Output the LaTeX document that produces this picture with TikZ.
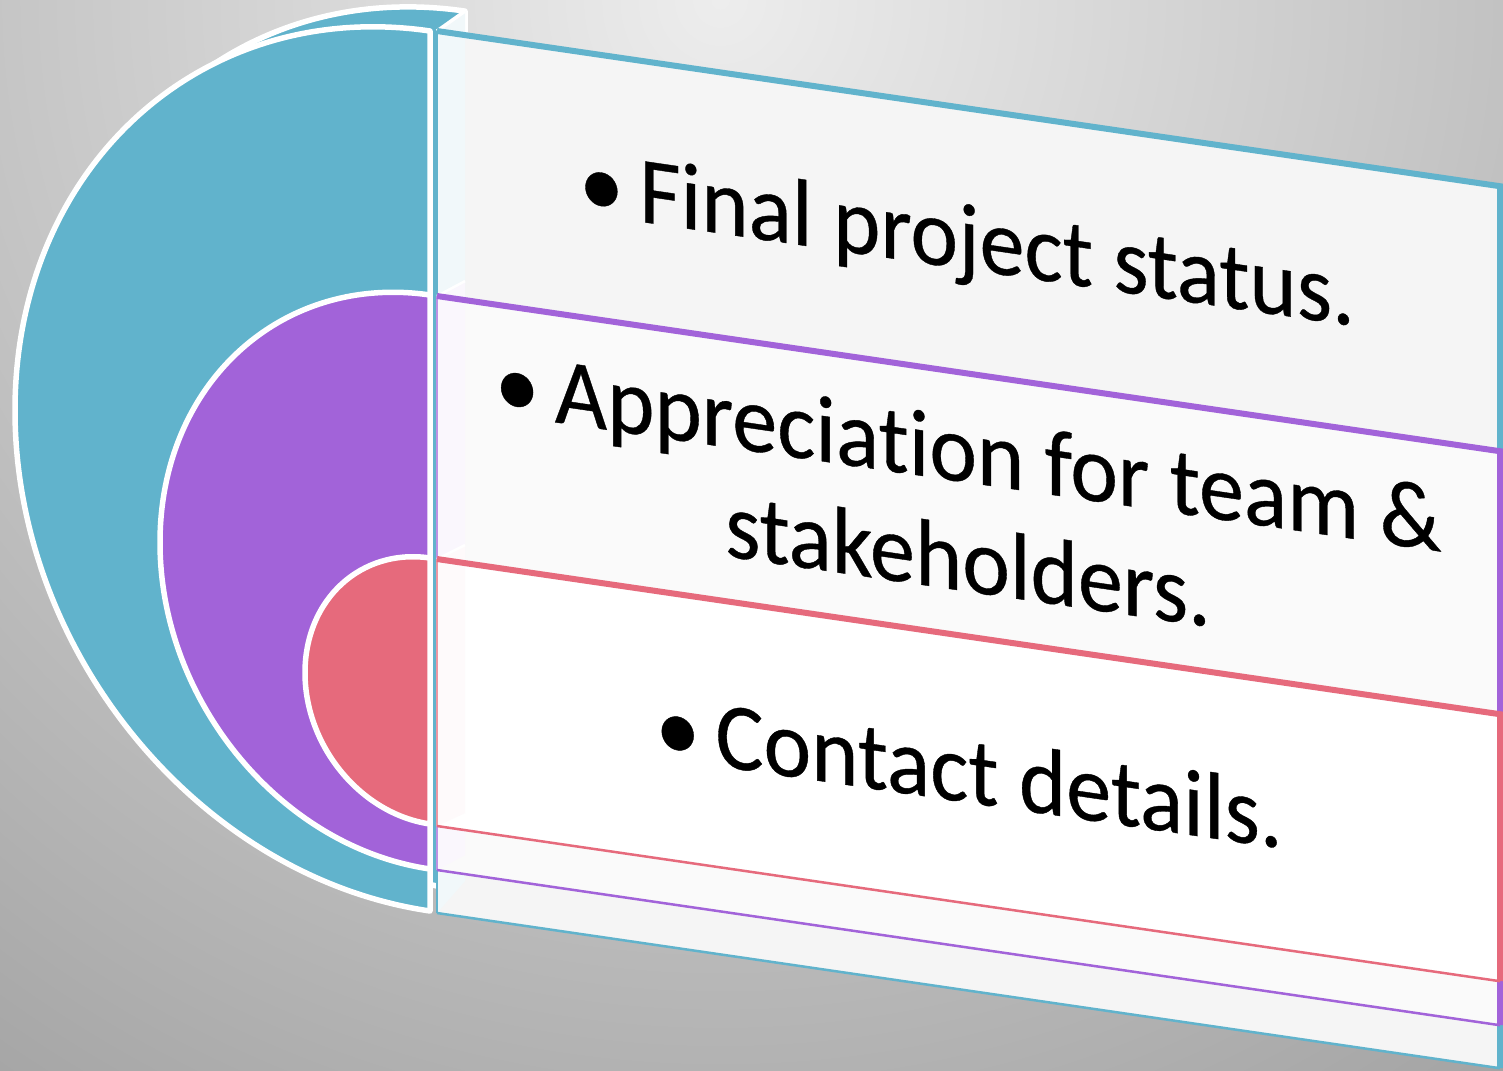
\documentclass[tikz,border=0pt]{standalone}
\usepackage{fontspec}
\setmainfont{Carlito}[RawFeature={-liga;-clig}, FakeBold=0.4]
\definecolor{cblue}{HTML}{61B3CC}
\definecolor{cpurp}{HTML}{A263D9}
\definecolor{cred}{HTML}{E66A7C}
\definecolor{bgin}{HTML}{EDEDED}
\definecolor{bgout}{HTML}{A0A0A0}
\definecolor{fillA}{HTML}{F5F5F5}
\definecolor{fillB}{HTML}{FAFAFA}
\newcommand{\bul}{\textbullet\hspace{0.17em}}
\tikzset{
  disc/.style={draw=white, line width=5.5pt, line join=round},
  topedge/.style={line width=6pt},
  botedge/.style={line width=2.5pt},
  sideedge/.style={line width=1.2pt},
  itemtext/.style={font=\fontsize{95}{109}\selectfont, inner sep=0pt, transform shape, text=black},
}
\begin{document}
\begin{tikzpicture}[x=1pt,y=-1pt]
\useasboundingbox (0,0) rectangle (1503,1070);
\begin{scope}
  \clip (0,0) rectangle (1503,1070);
  \shade[inner color=bgin, outer color=bgout] (720,0) circle (1400pt);
\end{scope}
\begin{scope}[cm={1,-0.146,0,1,(0pt,62.78pt)}]
  % blue item
  \path[disc, fill=cblue] (465,6) arc[start angle=90,end angle=270,x radius=415pt,y radius=440pt] -- cycle;
  \fill[fillA] (437,30) rectangle (1500,912);
  \fill[cblue!9] (437,30) -- (465,6) -- (465,876) -- (437,912) -- cycle;
  \draw[white, line width=3.5pt] (437,30) -- (465,6);
  \draw[cblue, sideedge] (437,30) -- (437,912);
  \draw[cblue, botedge] (437,912) -- (1500,912);
  \draw[cblue, topedge] (437,30) -- (1500,30) -- (1500,912);
  \path[disc, fill=cblue] (430,31) arc[start angle=90,end angle=270,x radius=415pt,y radius=440pt] -- cycle;
  % purple item
  \fill[fillB] (437,295) rectangle (1500,869);
  \fill[cpurp!5] (437,295) -- (465,276) -- (465,850) -- (437,869) -- cycle;
  \draw[white, line width=2.5pt] (437,295) -- (465,276);
  \draw[cpurp!70, sideedge] (437,295) -- (437,869);
  \draw[cpurp, botedge] (437,869) -- (1500,869);
  \draw[cpurp, topedge] (437,295) -- (1500,295) -- (1500,869);
  \path[disc, fill=cpurp] (430,295) arc[start angle=90,end angle=270,x radius=270pt,y radius=287pt] -- cycle;
  % red item
  \fill[white] (437,558) rectangle (1500,825);
  \fill[cred!3] (437,558) -- (465,540) -- (465,808) -- (437,825) -- cycle;
  \draw[white, line width=2.5pt] (437,558) -- (465,540);
  \draw[cred!70, sideedge] (437,558) -- (437,825);
  \draw[cred, botedge] (437,825) -- (1500,825);
  \draw[cred, topedge] (437,558) -- (1500,558) -- (1500,825);
  \path[disc, fill=cred] (430,558) arc[start angle=90,end angle=270,x radius=125pt,y radius=133pt] -- cycle;
  % texts
  \node[itemtext, anchor=base] (t1) at (967,191) {\scalebox{0.95}[1]{\bul Final project status.}};
  \node[itemtext, anchor=base] (t2) at (968,404) {\scalebox{0.95}[1]{\begin{tabular}[t]{@{}c@{}}\bul Appreciation for team \&\\ stakeholders.\end{tabular}}};
  \node[itemtext, anchor=base] (t3) at (969,724) {\scalebox{0.95}[1]{\bul Contact details.}};
\end{scope}
\end{tikzpicture}
\end{document}
